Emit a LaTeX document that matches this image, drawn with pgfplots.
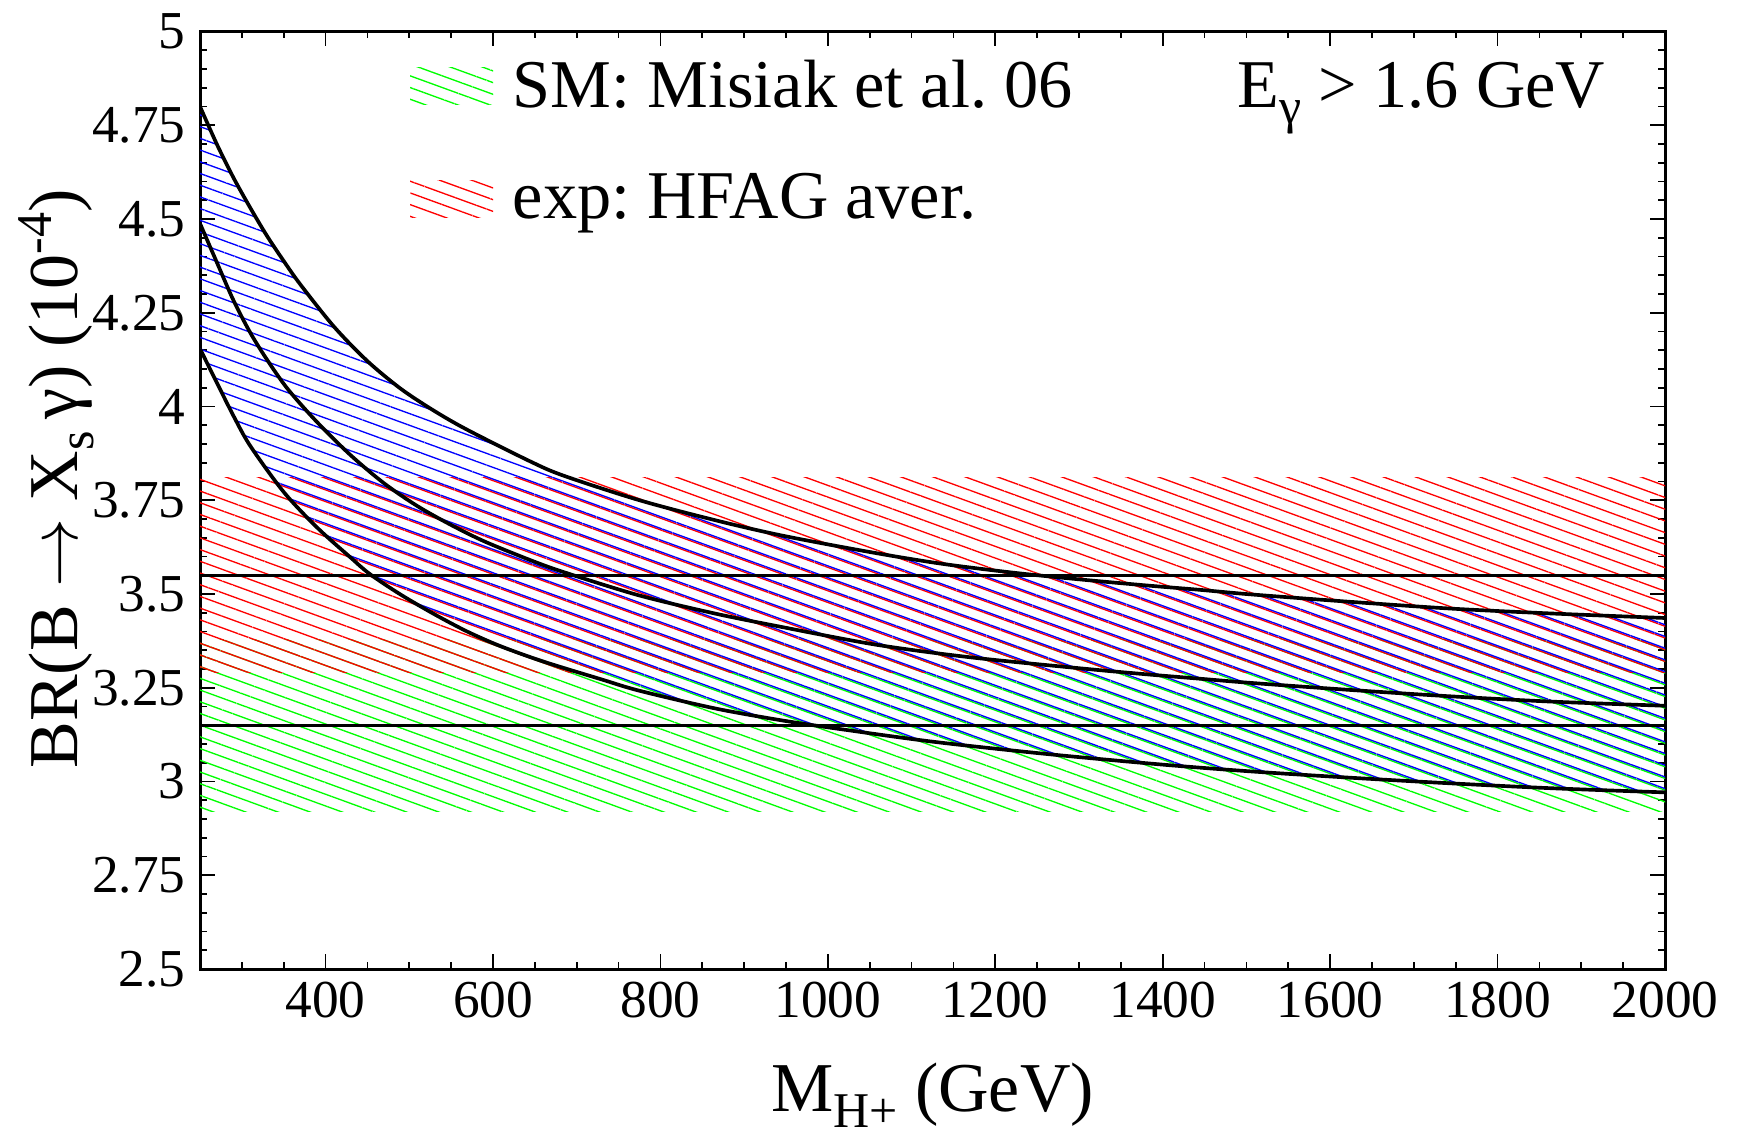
\documentclass[border=0pt]{standalone}
\usepackage{fontspec}
\setmainfont{Liberation Serif}
\usepackage{pgfplots}
\usepackage{pgfplotstable}
\pgfplotsset{compat=1.18}
\usepgfplotslibrary{fillbetween}
\usetikzlibrary{patterns.meta}
\frenchspacing

\newcommand\bigf{\fontsize{21}{25}\selectfont}
\newcommand\legf{\fontsize{20.5}{25}\selectfont}
\newcommand\tickf{\fontsize{16}{19}\selectfont}
\newcommand\sub[1]{\raisebox{-0.5ex}{\fontsize{15}{15}\selectfont #1}}
\newcommand\sups[1]{\raisebox{0.8ex}{\fontsize{15}{15}\selectfont #1}}
\tikzset{hatch/.style={pattern={Lines[angle=-20,distance=3.3pt,line width=0.4pt]}, pattern color=#1},
         hatchb/.style={pattern={Lines[angle=-20,distance=3.3pt,line width=0.4pt,yshift=0.45pt]}, pattern color=#1}}

\pgfplotstableread{
M y
250 4.800
270 4.700
290 4.610
310 4.530
330 4.455
350 4.388
370 4.325
410 4.213
450 4.121
490 4.047
530 3.988
570 3.937
645 3.853
685 3.815
775 3.750
865 3.697
945 3.656
1050 3.612
1135 3.581
1225 3.556
1310 3.537
1385 3.522
1445 3.511
1505 3.499
1625 3.479
1745 3.461
1865 3.448
2000 3.436
}\uppertab

\pgfplotstableread{
M y
250 4.488
270 4.385
290 4.283
310 4.197
330 4.125
355 4.046
390 3.958
430 3.870
470 3.795
510 3.734
550 3.684
590 3.640
645 3.590
685 3.558
775 3.496
865 3.448
945 3.412
1057 3.365
1171 3.331
1310 3.300
1385 3.285
1445 3.274
1505 3.263
1625 3.244
1745 3.227
1865 3.213
2000 3.202
}\centraltab

\pgfplotstableread{
M y
250 4.154
270 4.064
290 3.975
310 3.895
350 3.772
390 3.677
430 3.597
453 3.553
490 3.498
530 3.446
570 3.399
610 3.360
660 3.320
730 3.272
775 3.242
865 3.195
945 3.163
1011 3.141
1126 3.106
1263 3.073
1400 3.045
1505 3.027
1625 3.010
1745 2.995
1865 2.982
2000 2.971
}\lowertab

\begin{document}
\begin{tikzpicture}
\begin{axis}[
  set layers,
  scale only axis, width=439.5pt, height=281.25pt,
  xmin=250, xmax=2000, ymin=2.5, ymax=5,
  xtick={400,600,...,2000}, minor xtick={250,300,...,2000},
  ytick={2.5,2.75,...,5}, minor y tick num=4,
  tick align=inside, tick pos=both,
  major tick length=4.5pt, minor tick length=2.1pt,
  every tick/.style={black, line width=0.5pt},
  axis line style={line width=0.9pt},
  ticklabel style={font=\tickf},
  /pgf/number format/assume math mode=true,
  /pgf/number format/1000 sep={},
  xticklabel style={inner sep=0pt, yshift=-3.6pt},
  yticklabel style={inner sep=0pt, xshift=-4.2pt},
  y tick label style={/pgf/number format/.cd, fixed, precision=2},
  xlabel={M\sub{H+} (GeV)},
  ylabel={BR(B $\rightarrow$ X\sub{s}\,γ) (10\sups{-4})},
  label style={font=\bigf},
  xlabel style={at={(axis description cs:0.5,0)}, anchor=base, yshift=-42.6pt},
  ylabel style={at={(axis description cs:-0.0983,0.5227)}, anchor=center},
]
% SM band
\addplot[draw=none, hatch=green, on layer=pre main] coordinates {(250,2.92) (2000,2.92) (2000,3.38) (250,3.38)};
% experimental band
\addplot[draw=none, hatch=red, on layer=pre main] coordinates {(250,3.29) (2000,3.29) (2000,3.81) (250,3.81)};
% 2HDM band
\addplot[name path=up, draw=none, smooth] table {\uppertab};
\addplot[name path=lo, draw=none, smooth] table {\lowertab};
\addplot[draw=none, hatchb=blue, on layer=pre main] fill between[of=up and lo];
% curves
\addplot[black, line width=1.1pt, smooth] table {\uppertab};
\addplot[black, line width=1.1pt, smooth] table {\centraltab};
\addplot[black, line width=1.1pt, smooth] table {\lowertab};
\addplot[black, line width=1.0pt] coordinates {(250,3.55) (2000,3.55)};
\addplot[black, line width=1.0pt] coordinates {(250,3.15) (2000,3.15)};
% legend
\path[hatch=green] (axis cs:500.9,4.805) rectangle (axis cs:600,4.905);
\path[hatch=red] (axis cs:500.9,4.504) rectangle (axis cs:600,4.603);
\node[anchor=base west, font=\legf, inner sep=0pt] at (axis cs:622.7,4.797) {SM: Misiak et al. 06};
\node[anchor=base west, font=\legf, inner sep=0pt] at (axis cs:622.7,4.50) {exp: HFAG aver.};
\node[anchor=base east, font=\legf, inner sep=0pt] at (axis cs:1929.5,4.797) {E\sub{γ} > 1.6 GeV};
\end{axis}
\pgfresetboundingbox
\path[use as bounding box] (current axis.south west) ++(-60pt,-52.5pt) rectangle ++(521.1pt,343.2pt);
\end{tikzpicture}
\end{document}
